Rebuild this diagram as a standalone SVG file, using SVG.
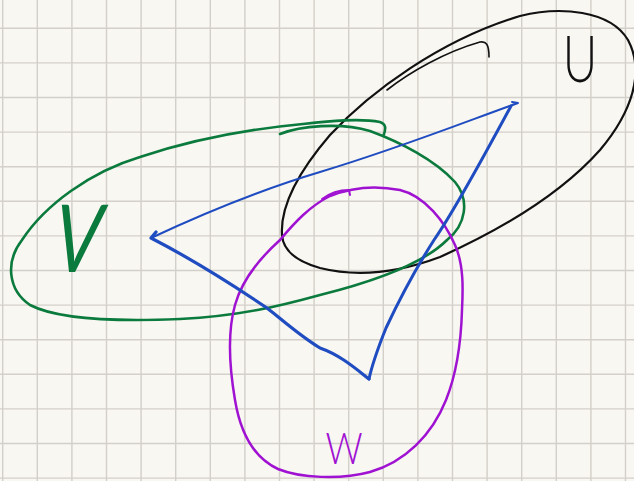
<svg xmlns="http://www.w3.org/2000/svg" width="634" height="481" viewBox="0 0 634 481">
<style>
.grid{stroke:#d3cfc9;stroke-width:1.4;fill:none}
.ink{fill:none;stroke-linecap:round;stroke-linejoin:round}
.blk{stroke:#111111}
.grn{stroke:#0b7a3d}
.blu{stroke:#1f4cc0}
.pur{stroke:#a012d2}
.lbl{font-family:"Lato","Roboto","Inter","Liberation Sans",sans-serif;font-weight:300;text-anchor:middle}
</style>
<rect width="634" height="481" fill="#f9f7f2"/>
<g id="grid">
<path class="grid" d="M2.7,0V481M37.3,0V481M71.9,0V481M106.5,0V481M141.1,0V481M175.7,0V481M210.3,0V481M244.9,0V481M279.5,0V481M314.1,0V481M348.7,0V481M383.3,0V481M417.9,0V481M452.5,0V481M487.1,0V481M521.7,0V481M556.3,0V481M590.9,0V481M625.5,0V481M0,28.3H634M0,62.9H634M0,97.5H634M0,132.1H634M0,166.7H634M0,201.3H634M0,235.9H634M0,270.5H634M0,305.1H634M0,339.7H634M0,374.3H634M0,408.9H634M0,443.5H634M0,478.1H634"/>
</g>
<g id="U">
<path class="ink blk" stroke-width="2.2" d="M282,235 C280,205 300,170 330,135 C370,92 440,40 520,16 C560,6 610,10 628,40 C645,72 632,112 600,150 C560,195 500,230 440,257 C400,272 360,278 320,268 C295,261 283,250 282,235 Z"/>
<path class="ink blk" stroke-width="1.6" d="M387,90 C410,72 445,52 480,42 C486,41 489,44 489,57"/>
<text class="lbl" x="0" y="0" font-size="66" fill="#111111" transform="translate(580,82) scale(0.72,1)">U</text>
</g>
<g id="V">
<path class="ink grn" stroke-width="2.6" d="M280,134 C300,126 340,122 370,131 C400,142 435,160 455,182 C470,200 466,225 447,240 C425,262 380,280 320,295 C280,306 240,316 180,319 C110,322 55,318 30,305 C8,290 5,262 22,240 C45,205 90,172 140,157 C200,137 260,128 303,124 C330,121 360,118 380,122 C386,124 386,128 384,134"/>
<text class="lbl" x="0" y="0" font-size="94" fill="#0b7a3d" transform="translate(72,272) skewX(-11) scale(0.74,1)" style="font-weight:400">V</text>
</g>
<g id="W">
<path class="ink pur" stroke-width="2.5" d="M280,240 C295,222 310,206 330,196 C350,188 375,185 400,190 C425,196 445,222 455,245 C464,265 463,290 462,310 C461,345 456,375 446,400 C432,435 405,462 370,472 C340,480 300,478 278,469 C252,457 240,430 235,400 C229,365 228,330 235,305 C242,280 260,258 280,240 Z"/>
<path class="ink pur" stroke-width="2" d="M322,199 C330,193 340,190 349,190 L350,195"/>
<text class="lbl" x="0" y="0" font-size="43" fill="#a012d2" transform="translate(344,464) scale(0.85,1)">W</text>
</g>
<g id="connectors">
<path class="ink blu" stroke-width="2" d="M151,238 C200,215 260,190 320,172 C400,148 470,120 518,103 L512,102"/>
<path class="ink blu" stroke-width="3" d="M511,106 C490,145 455,210 434,240 C420,262 400,298 386,328 C378,348 372,365 369,379"/>
<path class="ink blu" stroke-width="3.2" d="M369,379 C355,368 340,355 320,348 C300,336 280,318 267,308 C230,283 190,258 151,238 L156,232"/>
</g>
</svg>
